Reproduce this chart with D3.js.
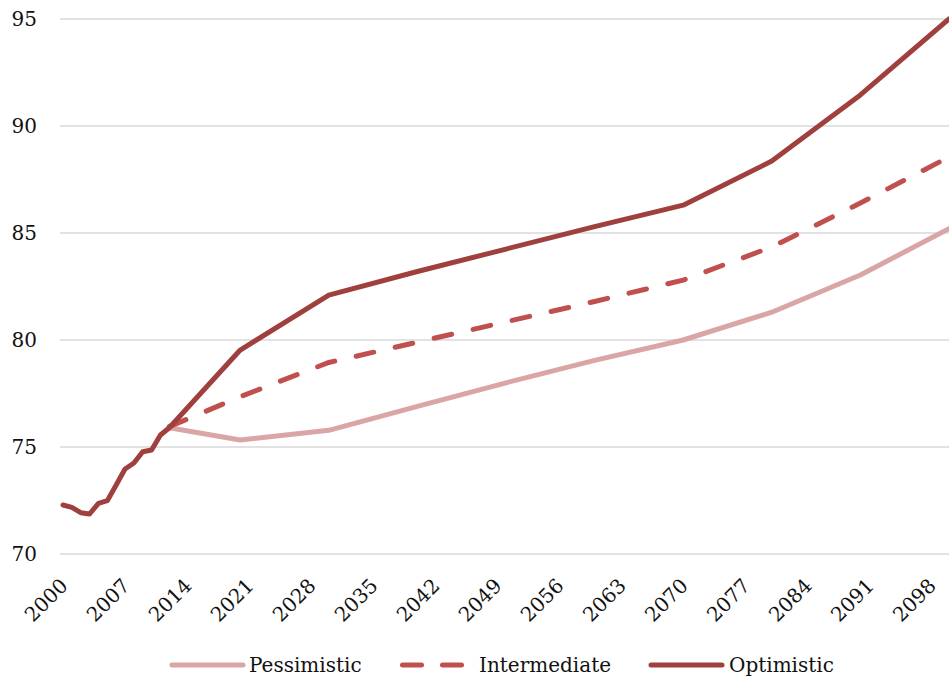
<!DOCTYPE html>
<html><head><meta charset="utf-8">
<script src="https://cdn.jsdelivr.net/npm/d3@7"></script>
<style>html,body{margin:0;padding:0;background:#fff;}svg{display:block;}</style>
</head><body>
<svg id="chart" width="949" height="683"></svg>
<script>
// Historical (shared) data
const histYears = [2000,2001,2002,2003,2004,2005,2006,2007,2008,2009,2010,2011,2012];
const histValues = [72.29,72.18,71.93,71.87,72.37,72.49,73.22,73.97,74.25,74.78,74.86,75.56,75.9];
// Projection years
const projYears = [2012,2020,2030,2040,2050,2060,2070,2080,2090,2100];
const pessimistic  = [75.9,75.33,75.78,76.9,78.0,79.05,80.0,81.3,83.04,85.2];
const intermediate = [75.95,77.35,78.95,79.9,80.85,81.8,82.8,84.35,86.4,88.55];
const optimistic   = [75.9,79.53,82.1,83.2,84.25,85.3,86.3,88.36,91.45,95.0];
const seriesNames = ["Pessimistic","Intermediate","Optimistic"];
const yTicks = [70,75,80,85,90,95];
const xTicks = [2000,2007,2014,2021,2028,2035,2042,2049,2056,2063,2070,2077,2084,2091,2098];

const svg = d3.select("#chart");
const font = "DejaVu Serif";
const x = d3.scaleLinear().domain([2000,2100]).range([63,949]);
const y = d3.scaleLinear().domain([70,95]).range([554,19]);

// gridlines
svg.append("g").selectAll("line").data(yTicks).join("line")
  .attr("x1",60).attr("x2",949).attr("y1",d=>y(d)).attr("y2",d=>y(d))
  .attr("stroke","#d9d9d9").attr("stroke-width",1.5);

// y labels
svg.append("g").selectAll("text").data(yTicks).join("text")
  .attr("x",37).attr("y",d=>y(d)).attr("dy","0.35em")
  .attr("text-anchor","end").attr("font-family",font).attr("font-size",20)
  .attr("fill","#111").text(d=>d);

// x labels
svg.append("g").selectAll("text").data(xTicks).join("text")
  .attr("transform",d=>`translate(${x(d)+1},${582}) rotate(-45)`)
  .attr("dy","0.35em").attr("text-anchor","end")
  .attr("font-family",font).attr("font-size",20).attr("fill","#111").text(d=>d);

const line = d3.line().x(d=>x(d[0])).y(d=>y(d[1]));
const colors = {Pessimistic:"#d9a6a5", Intermediate:"#c0504d", Optimistic:"#a0403e"};
const dash = "18,22";

const mk = vals => projYears.map((yr,i)=>[yr,vals[i]]);
svg.append("path").datum(mk(pessimistic)).attr("d",line).attr("fill","none")
  .attr("stroke",colors.Pessimistic).attr("stroke-width",5).attr("stroke-linejoin","round").attr("stroke-linecap","round");
svg.append("path").datum(mk(intermediate)).attr("d",line).attr("fill","none")
  .attr("stroke",colors.Intermediate).attr("stroke-width",5).attr("stroke-dasharray",dash).attr("stroke-linecap","round");
const optData = histYears.map((yr,i)=>[yr,histValues[i]]).concat(mk(optimistic).slice(1));
svg.append("path").datum(optData).attr("d",line).attr("fill","none")
  .attr("stroke",colors.Optimistic).attr("stroke-width",5).attr("stroke-linejoin","round").attr("stroke-linecap","round");

// legend
const legend = [
  {name:"Pessimistic", x1:172, x2:243, tx:249},
  {name:"Intermediate", x1:402.5, x2:470, tx:479},
  {name:"Optimistic", x1:651, x2:722, tx:729}
];
const lg = svg.append("g");
legend.forEach(l=>{
  lg.append("line").attr("x1",l.x1).attr("x2",l.x2).attr("y1",665).attr("y2",665)
    .attr("stroke",colors[l.name]).attr("stroke-width",5).attr("stroke-linecap","round")
    .attr("stroke-dasharray", l.name==="Intermediate" ? "19,21" : null);
  lg.append("text").attr("x",l.tx).attr("y",665).attr("dy","0.35em")
    .attr("font-family",font).attr("font-size",20).attr("fill","#111").text(l.name);
});
</script>
</body></html>
